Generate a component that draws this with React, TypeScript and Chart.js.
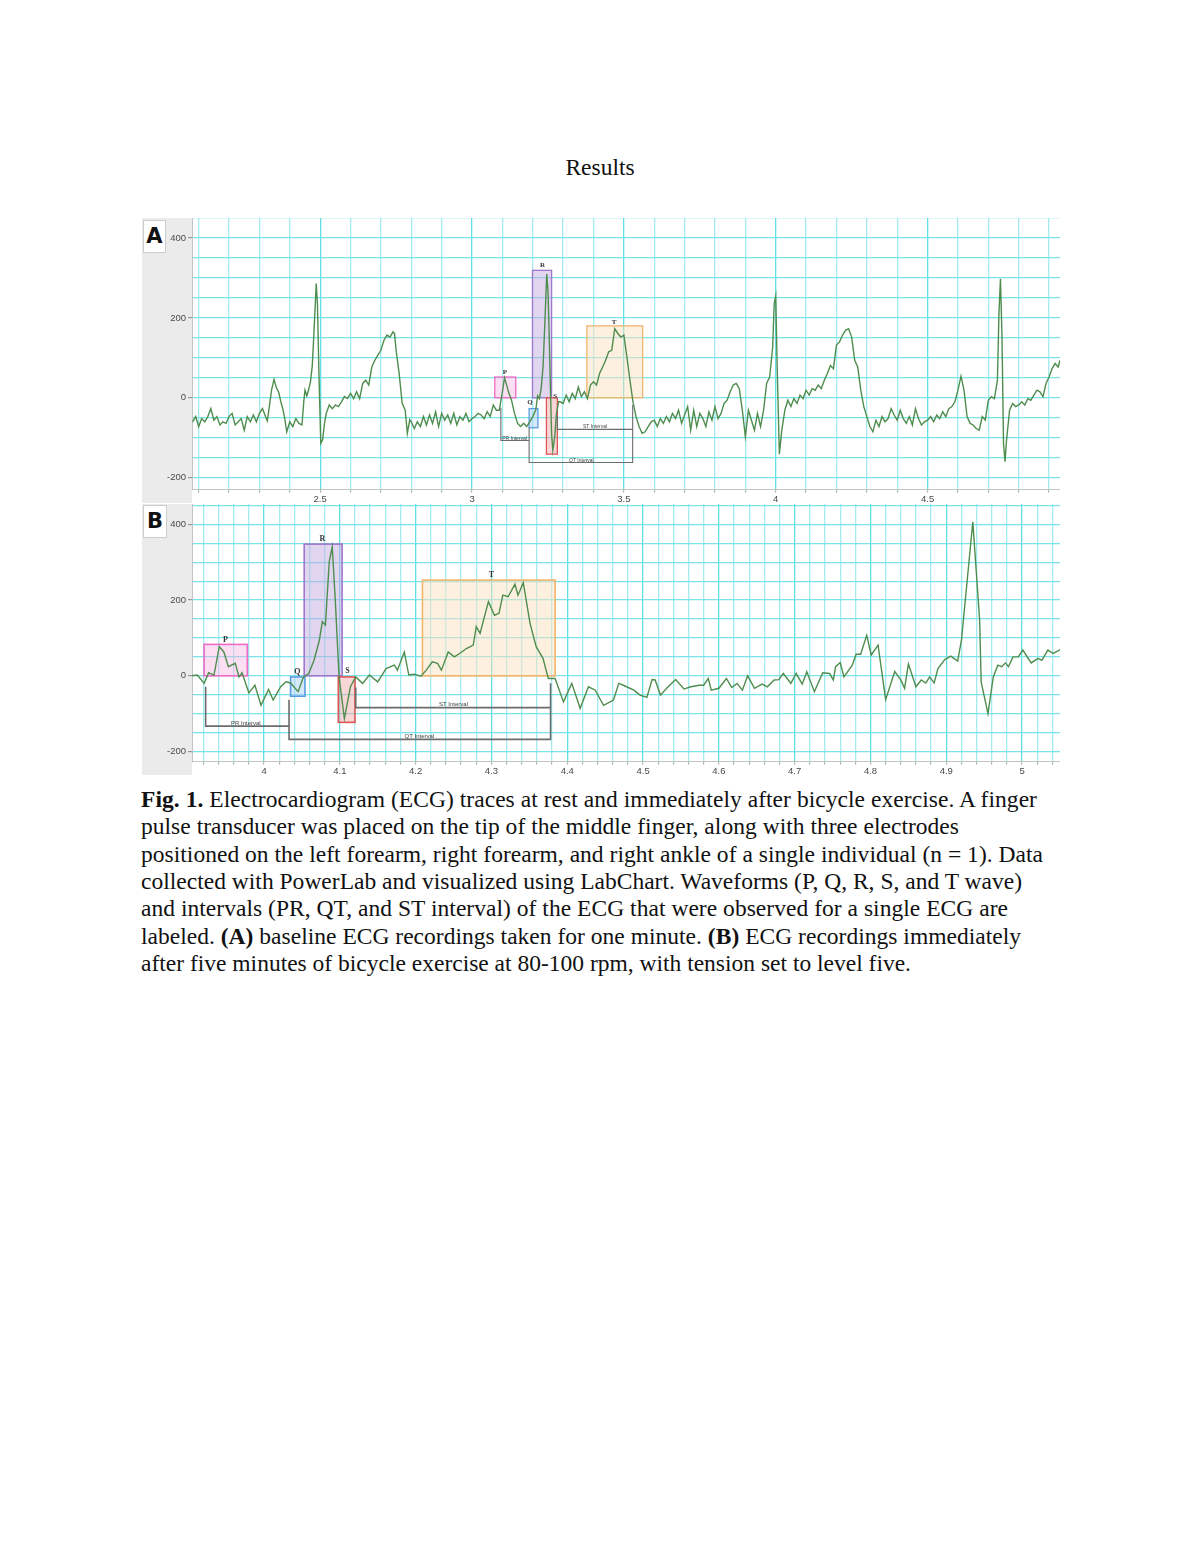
import { useEffect, useLayoutEffect, useRef } from "react"
import { Chart, registerables } from "chart.js"

Chart.register(...registerables)

// Panel A (rest) ECG trace: [time (s), amplitude]
const restTrace: [number, number][] = [
  [2.08, -60], [2.09, -47], [2.1, -72], [2.11, -52], [2.12, -60], [2.13, -47], [2.14, -27], [2.15, -56],
  [2.16, -47], [2.17, -68], [2.18, -60], [2.19, -64], [2.2, -47], [2.21, -39], [2.22, -68], [2.23, -60],
  [2.24, -52], [2.25, -81], [2.26, -47], [2.27, -60], [2.28, -43], [2.29, -60], [2.3, -39], [2.31, -27],
  [2.32, -47], [2.326, -58], [2.333, -20], [2.34, 20], [2.348, 46], [2.356, 25], [2.363, 15], [2.37, -8],
  [2.376, -25], [2.382, -45], [2.39, -85], [2.4, -60], [2.41, -72], [2.42, -52], [2.43, -64], [2.44, -68],
  [2.446, -10], [2.45, 19], [2.456, 5], [2.462, 20], [2.468, 40], [2.474, 80], [2.48, 170], [2.487, 286],
  [2.491, 236], [2.496, 60], [2.502, -114], [2.508, -105], [2.515, -60], [2.52, -39], [2.53, -18], [2.54, -27],
  [2.55, -18], [2.56, -22], [2.57, -10], [2.58, 3], [2.59, -2], [2.6, 11], [2.61, -2], [2.62, 15],
  [2.63, -2], [2.64, 36], [2.65, 44], [2.66, 32], [2.67, 77], [2.68, 94], [2.69, 107], [2.7, 119],
  [2.71, 144], [2.72, 157], [2.73, 152], [2.74, 165], [2.745, 160], [2.75, 119], [2.76, 61], [2.77, -14],
  [2.78, -31], [2.787, -89], [2.795, -55], [2.8, -60], [2.81, -77], [2.82, -60], [2.83, -72], [2.84, -47],
  [2.85, -68], [2.86, -43], [2.87, -64], [2.88, -35], [2.89, -72], [2.9, -39], [2.91, -56], [2.92, -43],
  [2.93, -64], [2.94, -39], [2.95, -68], [2.96, -47], [2.97, -56], [2.98, -39], [2.99, -60], [3.0, -52],
  [3.01, -47], [3.02, -39], [3.03, -43], [3.04, -52], [3.05, -35], [3.06, -47], [3.07, -18], [3.08, -31],
  [3.09, -31], [3.1, 15], [3.107, 50], [3.115, 30], [3.12, 15], [3.13, -6], [3.14, -39], [3.15, -64],
  [3.16, -72], [3.17, -64], [3.18, -72], [3.19, -60], [3.2, -47], [3.21, -30], [3.216, 5], [3.222, -2],
  [3.228, 25], [3.234, 80], [3.24, 190], [3.246, 310], [3.25, 270], [3.254, 160], [3.258, 30], [3.262, -90],
  [3.266, -131], [3.272, -100], [3.278, -40], [3.285, -10], [3.29, -10], [3.3, -14], [3.31, 7], [3.32, -10],
  [3.33, 11], [3.34, -2], [3.35, 27], [3.36, 3], [3.37, 15], [3.38, -2], [3.39, 32], [3.4, 40],
  [3.41, 32], [3.42, 61], [3.43, 77], [3.44, 94], [3.45, 115], [3.46, 119], [3.47, 173], [3.48, 161],
  [3.49, 152], [3.5, 157], [3.51, 102], [3.52, 44], [3.53, -10], [3.54, -47], [3.55, -72], [3.56, -89],
  [3.57, -85], [3.58, -72], [3.59, -60], [3.6, -56], [3.61, -72], [3.62, -52], [3.63, -64], [3.64, -47],
  [3.65, -60], [3.66, -39], [3.67, -52], [3.68, -31], [3.69, -64], [3.7, -43], [3.71, -22], [3.72, -81],
  [3.73, -31], [3.74, -72], [3.75, -39], [3.76, -52], [3.77, -72], [3.78, -35], [3.79, -56], [3.8, -22],
  [3.81, -52], [3.82, -39], [3.83, -14], [3.84, -6], [3.85, 15], [3.86, 32], [3.87, 36], [3.88, 23],
  [3.89, -31], [3.9, -97], [3.91, -31], [3.92, -56], [3.93, -81], [3.94, -39], [3.95, -72], [3.96, -31],
  [3.97, 36], [3.98, 52], [3.99, 127], [3.995, 236], [4.0, 255], [4.005, 69], [4.012, -141], [4.02, -81],
  [4.03, -31], [4.04, -6], [4.05, -22], [4.06, -2], [4.07, -14], [4.08, 7], [4.09, -2], [4.1, 19],
  [4.11, 7], [4.12, 23], [4.13, 19], [4.14, 32], [4.15, 23], [4.16, 44], [4.17, 61], [4.18, 81],
  [4.19, 73], [4.2, 132], [4.21, 140], [4.22, 157], [4.23, 169], [4.24, 173], [4.25, 152], [4.26, 94],
  [4.27, 77], [4.28, 19], [4.29, -22], [4.3, -47], [4.31, -72], [4.32, -85], [4.33, -56], [4.34, -72],
  [4.35, -47], [4.36, -60], [4.37, -52], [4.38, -27], [4.39, -43], [4.4, -56], [4.41, -31], [4.42, -52],
  [4.43, -64], [4.44, -47], [4.45, -68], [4.46, -27], [4.47, -52], [4.48, -68], [4.49, -60], [4.5, -56],
  [4.51, -47], [4.52, -60], [4.53, -43], [4.54, -52], [4.55, -35], [4.56, -47], [4.57, -27], [4.58, -22],
  [4.59, -10], [4.6, 19], [4.61, 54], [4.62, 19], [4.63, -47], [4.64, -64], [4.65, -68], [4.66, -77],
  [4.67, -81], [4.68, -47], [4.69, -56], [4.7, -6], [4.71, 3], [4.72, -2], [4.73, 44], [4.735, 211],
  [4.74, 298], [4.745, 152], [4.75, -114], [4.755, -160], [4.76, -106], [4.77, -31], [4.78, -14], [4.79, -22],
  [4.8, -18], [4.81, -10], [4.82, -18], [4.83, -2], [4.84, -6], [4.85, 7], [4.86, 19], [4.87, 15],
  [4.88, 3], [4.89, 36], [4.9, 52], [4.91, 73], [4.92, 86], [4.93, 77], [4.936, 94],
]

// Panel B (after exercise) ECG trace: [time (s), amplitude]
const exerciseTrace: [number, number][] = [
  [3.905, 0], [3.912, 2], [3.921, -20], [3.927, 8], [3.934, 2], [3.941, 77], [3.947, 63], [3.953, 24],
  [3.962, 33], [3.967, -3], [3.971, 8], [3.98, -45], [3.988, -25], [3.996, -78], [4.006, -36], [4.012, -64],
  [4.022, -29], [4.029, -16], [4.035, -19], [4.045, -42], [4.052, -3], [4.059, 6], [4.066, 41], [4.073, 94],
  [4.077, 143], [4.081, 134], [4.086, 301], [4.09, 341], [4.094, 200], [4.099, -3], [4.106, -113], [4.114, -29],
  [4.121, -3], [4.13, -20], [4.139, 2], [4.15, -16], [4.161, 19], [4.167, 24], [4.172, 28], [4.176, 15],
  [4.185, 63], [4.191, 2], [4.198, 4], [4.207, -1], [4.214, 15], [4.222, 37], [4.229, 33], [4.234, 15],
  [4.243, 63], [4.251, 50], [4.258, 59], [4.267, 72], [4.276, 81], [4.28, 130], [4.285, 112], [4.296, 196],
  [4.304, 160], [4.31, 165], [4.315, 213], [4.322, 209], [4.331, 242], [4.335, 213], [4.342, 246], [4.351, 138],
  [4.359, 77], [4.368, 46], [4.375, -7], [4.384, -7], [4.395, -69], [4.406, -20], [4.417, -86], [4.428, -29],
  [4.437, -38], [4.444, -64], [4.448, -78], [4.461, -64], [4.468, -20], [4.474, -25], [4.488, -38], [4.496, -51],
  [4.505, -57], [4.512, -10], [4.516, -11], [4.523, -51], [4.532, -31], [4.543, -10], [4.554, -35], [4.563, -29],
  [4.574, -25], [4.58, -25], [4.586, -7], [4.59, -38], [4.6, -33], [4.61, -7], [4.617, -31], [4.624, -20],
  [4.631, -38], [4.638, 0], [4.647, -33], [4.657, -22], [4.664, -29], [4.673, -11], [4.679, -10], [4.685, 6],
  [4.695, -20], [4.702, 6], [4.71, -22], [4.716, 11], [4.726, -42], [4.737, 8], [4.746, 6], [4.751, -11],
  [4.754, 24], [4.76, 35], [4.765, -3], [4.776, 28], [4.781, 57], [4.787, 57], [4.795, 107], [4.801, 55],
  [4.81, 81], [4.82, -63], [4.832, 11], [4.84, -11], [4.845, -33], [4.85, 31], [4.86, -29], [4.867, -11],
  [4.873, -19], [4.878, -3], [4.884, -19], [4.889, 19], [4.898, 43], [4.906, 52], [4.915, 39], [4.92, 94],
  [4.935, 407], [4.944, 147], [4.946, -16], [4.955, -100], [4.962, -3], [4.968, 28], [4.973, 24], [4.978, 34],
  [4.982, 24], [4.988, 50], [4.995, 50], [5.001, 68], [5.012, 34], [5.021, 46], [5.026, 41], [5.034, 68],
  [5.041, 59], [5.051, 70],
]

const waveNames = ["P", "Q", "R", "S", "T"]

// wave boxes [t start, t end, low, high], same order as waveNames
const restBoxes = [
  [3.075, 3.144, 0, 52],
  [3.188, 3.217, -75, -27],
  [3.199, 3.262, 0, 319],
  [3.245, 3.281, -141, 0],
  [3.378, 3.562, 0, 180],
]
const restWaveLabelAt = [[3.108, 63], [3.191, -12], [3.232, 332], [3.274, 4], [3.468, 188]]

const exerciseBoxes = [
  [3.921, 3.978, 0, 83],
  [4.035, 4.054, -54, -3],
  [4.053, 4.103, 0, 348],
  [4.098, 4.12, -123, -3],
  [4.209, 4.384, 0, 253],
]
const exerciseWaveLabelAt = [[3.949, 95], [4.044, 10], [4.077, 362], [4.11, 12], [4.3, 266]]

const intervalNames = ["PR Interval", "QT Interval", "ST Interval"]
const restIntervalPaths = [
  [[3.095, -25], [3.095, -107], [3.188, -107]],
  [[3.188, -75], [3.188, -162], [3.529, -162], [3.529, -18]],
  [[3.281, -45], [3.281, -79], [3.529, -79]],
]
const restIntervalLabelAt = [[3.14, -101], [3.36, -156], [3.405, -73]]

const exerciseIntervalPaths = [
  [[3.923, -29], [3.923, -133], [4.033, -133]],
  [[4.033, -63], [4.033, -168], [4.378, -168], [4.378, -20]],
  [[4.121, -31], [4.121, -84], [4.378, -84]],
]
const exerciseIntervalLabelAt = [[3.976, -125], [4.205, -160], [4.25, -76]]

const captionLines: [string, boolean][][] = [
  [["Fig. 1.", true], [" Electrocardiogram (ECG) traces at rest and immediately after bicycle exercise. A finger", false]],
  [["pulse transducer was placed on the tip of the middle finger, along with three electrodes", false]],
  [["positioned on the left forearm, right forearm, and right ankle of a single individual (n = 1). Data", false]],
  [["collected with PowerLab and visualized using LabChart. Waveforms (P, Q, R, S, and T wave)", false]],
  [["and intervals (PR, QT, and ST interval) of the ECG that were observed for a single ECG are", false]],
  [
    ["labeled. ", false],
    ["(A)", true],
    [" baseline ECG recordings taken for one minute. ", false],
    ["(B)", true],
    [" ECG recordings immediately", false],
  ],
  [["after five minutes of bicycle exercise at 80-100 rpm, with tension set to level five.", false]],
]
const captionWidths = [896, 818, 902, 881, 867, 880, 770]

const waveStroke = ["#f06ac6", "#5b9de2", "#a077cc", "#e05656", "#f3b56c"]
const waveFill = [
  "rgba(250, 175, 225, 0.4)",
  "rgba(165, 205, 245, 0.45)",
  "rgba(196, 172, 226, 0.5)",
  "rgba(240, 165, 165, 0.45)",
  "rgba(252, 226, 192, 0.5)",
]

const onStep = (v: number, step: number) => {
  const k = v / step
  return Math.abs(k - Math.round(k)) < 1e-6
}

interface PanelProps {
  trace: [number, number][]
  xMin: number
  xMax: number
  yMin: number
  yMax: number
  xStep: number
  xLabelStep: number
  boxes: number[][]
  waveLabelAt: number[][]
  intervalPaths: number[][][]
  intervalLabelAt: number[][]
  big: boolean
  style: React.CSSProperties
}

function EcgPanel(p: PanelProps) {
  const canvasRef = useRef<HTMLCanvasElement>(null)

  useEffect(() => {
    if (!canvasRef.current) return

    const marks = {
      id: "ecgMarks",
      beforeDraw(chart: any) {
        const { ctx, chartArea } = chart
        ctx.save()
        ctx.fillStyle = "#ebebeb"
        ctx.fillRect(0, 0, chartArea.left, chart.height)
        ctx.restore()
      },
      beforeDatasetsDraw(chart: any) {
        const { ctx, chartArea, scales } = chart
        const { x, y } = scales
        ctx.save()
        ctx.beginPath()
        ctx.rect(chartArea.left, chartArea.top, chartArea.width, chartArea.height)
        ctx.clip()
        p.boxes.forEach(([t0, t1, v0, v1], i) => {
          const left = x.getPixelForValue(t0)
          const right = x.getPixelForValue(t1)
          const top = y.getPixelForValue(v1)
          const bottom = y.getPixelForValue(v0)
          ctx.fillStyle = waveFill[i]
          ctx.fillRect(left, top, right - left, bottom - top)
          ctx.strokeStyle = waveStroke[i]
          ctx.lineWidth = p.big ? 1.6 : 1.3
          ctx.strokeRect(left, top, right - left, bottom - top)
        })
        ctx.restore()
      },
      afterDatasetsDraw(chart: any) {
        const { ctx, scales } = chart
        const { x, y } = scales
        ctx.save()
        // interval brackets
        ctx.strokeStyle = "#6c6c6c"
        ctx.lineWidth = p.big ? 1.6 : 1.1
        p.intervalPaths.forEach((path) => {
          ctx.beginPath()
          path.forEach(([t, v], k) => {
            const px = x.getPixelForValue(t)
            const py = y.getPixelForValue(v)
            if (k === 0) ctx.moveTo(px, py)
            else ctx.lineTo(px, py)
          })
          ctx.stroke()
        })
        ctx.fillStyle = "#444"
        ctx.textAlign = "center"
        ctx.textBaseline = "middle"
        ctx.font = `${p.big ? 6 : 5}px "Liberation Sans"`
        p.intervalLabelAt.forEach(([t, v], i) => {
          ctx.fillText(intervalNames[i], x.getPixelForValue(t), y.getPixelForValue(v))
        })
        // wave letters
        ctx.fillStyle = "#333"
        ctx.font = `bold ${p.big ? 8 : 7}px "Liberation Serif"`
        p.waveLabelAt.forEach(([t, v], i) => {
          ctx.fillText(waveNames[i], x.getPixelForValue(t), y.getPixelForValue(v))
        })
        ctx.restore()
      },
    }

    const chart = new Chart(canvasRef.current, {
      type: "line",
      data: {
        datasets: [
          {
            data: p.trace.map(([t, v]) => ({ x: t, y: v })),
            borderColor: "#4f8d4f",
            borderWidth: 1.4,
            pointRadius: 0,
            tension: 0,
          },
        ],
      },
      options: {
        animation: false,
        responsive: true,
        maintainAspectRatio: false,
        layout: { padding: 0 },
        plugins: {
          legend: { display: false },
          tooltip: { enabled: false },
          title: { display: false },
        },
        scales: {
          x: {
            type: "linear",
            min: p.xMin,
            max: p.xMax,
            afterFit: (axis: any) => {
              axis.height = 13.3
              axis.paddingLeft = 0
              axis.paddingRight = 0
            },
            border: { color: "#c4c4c4", width: 1 },
            grid: {
              color: (c: any) =>
                onStep(c.tick.value, p.xLabelStep) ? "rgb(96, 222, 228)" : "rgb(162, 236, 240)",
              lineWidth: 1.3,
              tickColor: "#a8a8a8",
              tickLength: 3,
              tickWidth: 1,
            },
            ticks: {
              stepSize: p.xStep,
              includeBounds: false,
              autoSkip: false,
              maxRotation: 0,
              maxTicksLimit: 1000,
              padding: 1,
              color: "#4a4a4a",
              font: { family: "Liberation Sans", size: 9.5 },
              callback: (v: any) =>
                onStep(Number(v), p.xLabelStep) ? String(Math.round(Number(v) * 10) / 10) : "",
            },
          },
          y: {
            type: "linear",
            min: p.yMin,
            max: p.yMax,
            afterFit: (axis: any) => {
              axis.width = 50
              axis.paddingTop = 0
              axis.paddingBottom = 0
            },
            border: { color: "#c4c4c4", width: 1 },
            grid: {
              color: "rgb(122, 226, 232)",
              lineWidth: 1.3,
              tickColor: (c: any) => (onStep(c.tick.value, 200) ? "#8a8a8a" : "transparent"),
              tickLength: 4,
              tickWidth: 1,
            },
            ticks: {
              stepSize: 50,
              includeBounds: false,
              autoSkip: false,
              maxTicksLimit: 1000,
              padding: 2,
              color: "#4a4a4a",
              font: { family: "Liberation Sans", size: 9.5 },
              callback: (v: any) => (onStep(Number(v), 200) ? String(v) : ""),
            },
          },
        },
      },
      plugins: [marks],
    } as any)

    return () => {
      chart.destroy()
    }
  }, [])

  return (
    <div style={{ position: "absolute", ...p.style }}>
      <canvas ref={canvasRef} />
    </div>
  )
}

function Caption() {
  const lineRefs = useRef<(HTMLDivElement | null)[]>([])

  // fit each line to the width it has in the printed page
  useLayoutEffect(() => {
    lineRefs.current.forEach((el, i) => {
      if (!el) return
      el.style.letterSpacing = "0px"
      const w = el.getBoundingClientRect().width
      const n = (el.textContent || "").length
      el.style.letterSpacing = `${(captionWidths[i] - w) / n}px`
    })
  }, [])

  return (
    <>
      {captionLines.map((parts, i) => (
        <div
          key={i}
          ref={(el) => {
            lineRefs.current[i] = el
          }}
          style={{
            position: "absolute",
            left: 141,
            top: 786 + i * 27.33,
            whiteSpace: "nowrap",
            fontFamily: '"Liberation Serif", serif',
            fontSize: 23.5,
            lineHeight: "27.33px",
            color: "#111",
          }}
        >
          {parts.map(([text, bold], k) => (
            <span key={k} style={{ fontWeight: bold ? "bold" : "normal" }}>
              {text}
            </span>
          ))}
        </div>
      ))}
    </>
  )
}

function PanelLetter({ letter, left, top, width, height }: any) {
  return (
    <div
      style={{
        position: "absolute",
        left,
        top,
        width,
        height,
        boxSizing: "border-box",
        border: "1px solid #cdcdcd",
        background: "#fff",
        fontFamily: '"DejaVu Sans", sans-serif',
        fontWeight: "bold",
        fontSize: 21,
        lineHeight: `${height - 2}px`,
        textAlign: "center",
        color: "#111",
      }}
    >
      {letter}
    </div>
  )
}

export default function App() {
  return (
    <div
      style={{
        position: "absolute",
        left: 0,
        top: 0,
        width: 1200,
        height: 1553,
        background: "#fff",
        overflow: "hidden",
      }}
    >
      <div
        style={{
          position: "absolute",
          top: 153,
          left: 0,
          width: 1200,
          textAlign: "center",
          fontFamily: '"Liberation Serif", serif',
          fontSize: 23.5,
          lineHeight: "28px",
          color: "#111",
        }}
      >
        Results
      </div>

      <EcgPanel
        trace={restTrace}
        xMin={2.078}
        xMax={4.936}
        yMin={-230}
        yMax={450}
        xStep={0.1}
        xLabelStep={0.5}
        boxes={restBoxes}
        waveLabelAt={restWaveLabelAt}
        intervalPaths={restIntervalPaths}
        intervalLabelAt={restIntervalLabelAt}
        big={false}
        style={{ left: 142, top: 218, width: 918, height: 285 }}
      />
      <EcgPanel
        trace={exerciseTrace}
        xMin={3.905}
        xMax={5.05}
        yMin={-227}
        yMax={454}
        xStep={0.02}
        xLabelStep={0.1}
        boxes={exerciseBoxes}
        waveLabelAt={exerciseWaveLabelAt}
        intervalPaths={exerciseIntervalPaths}
        intervalLabelAt={exerciseIntervalLabelAt}
        big={true}
        style={{ left: 142, top: 504, width: 918, height: 271 }}
      />

      <PanelLetter letter="A" left={143} top={220} width={23} height={33} />
      <PanelLetter letter="B" left={143} top={505} width={24} height={33} />

      <Caption />
    </div>
  )
}
